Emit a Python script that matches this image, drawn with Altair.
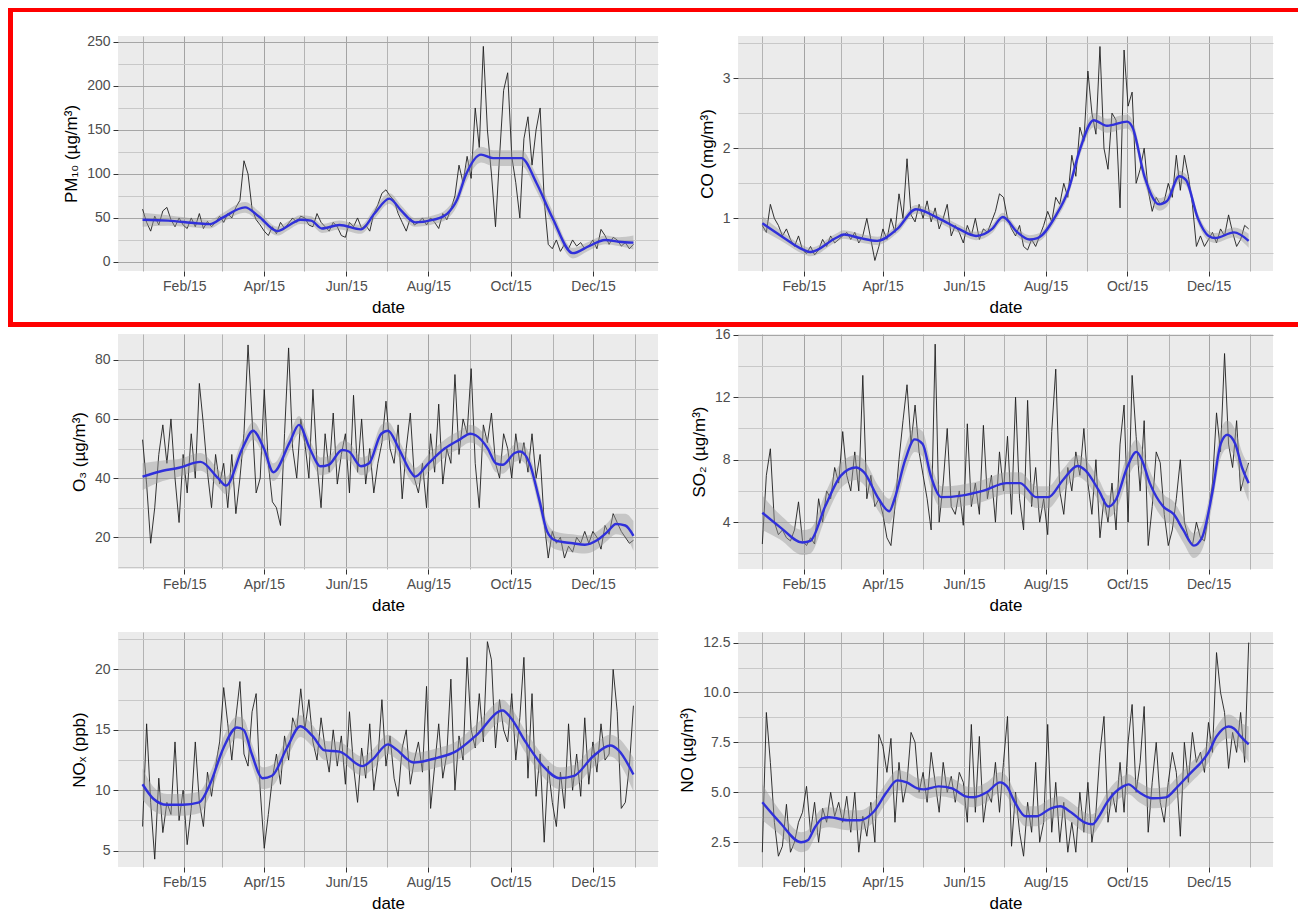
import altair as alt
import pandas as pd

# ---------------- data ----------------
pm10_daily = [60, 45, 35, 52, 42, 58, 62, 48, 40, 50,
              42, 38, 50, 40, 55, 38, 46, 40, 45, 52,
              45, 55, 50, 62, 70, 115, 100, 60, 48, 42,
              35, 30, 40, 32, 45, 38, 44, 50, 45, 52,
              50, 42, 40, 55, 45, 40, 35, 45, 40, 30,
              28, 45, 40, 50, 38, 42, 35, 55, 65, 78,
              82, 75, 70, 55, 45, 35, 50, 42, 45, 50,
              42, 50, 45, 38, 55, 48, 60, 75, 110, 90,
              120, 95, 175, 130, 245, 150, 100, 40, 120, 195,
              215, 120, 90, 50, 140, 165, 110, 150, 175, 70,
              20, 15, 25, 12, 20, 15, 25, 18, 22, 15,
              18, 25, 15, 37, 30, 20, 28, 25, 18, 22, 15, 20]
pm10_sm_dates = ["2015-01-01", "2015-01-20", "2015-02-10", "2015-02-20", "2015-03-01", "2015-03-18",
                 "2015-03-28", "2015-04-11", "2015-04-20", "2015-04-28", "2015-05-06", "2015-05-14",
                 "2015-05-27", "2015-06-12", "2015-06-22", "2015-07-03", "2015-07-12", "2015-07-22",
                 "2015-08-05", "2015-08-15", "2015-08-22", "2015-08-29", "2015-09-09", "2015-09-18",
                 "2015-10-01", "2015-10-09", "2015-10-20", "2015-11-01", "2015-11-16", "2015-11-28",
                 "2015-12-10", "2015-12-20", "2015-12-31"]
pm10_sm = [48, 47, 44, 43, 50, 62, 52, 35, 42, 48, 47, 38, 42, 37, 55, 72, 58, 45,
           48, 55, 70, 100, 122, 118, 118, 118, 90, 50, 10, 18, 25, 23, 22]
pm10_se = [8, 6, 5, 5, 5, 6, 6, 5, 5, 5, 5, 5, 5, 5, 6, 6, 6, 5,
           5, 6, 7, 9, 9, 9, 9, 9, 9, 8, 6, 5, 5, 5, 8]

co_daily = [0.9, 0.8, 1.2, 1.0, 0.9, 0.75, 0.85, 0.7, 0.6, 0.75,
            0.55, 0.5, 0.6, 0.48, 0.55, 0.7, 0.6, 0.75, 0.65, 0.7,
            0.75, 0.8, 0.7, 0.8, 0.65, 0.75, 1.0, 0.7, 0.4, 0.6,
            0.85, 0.7, 1.0, 0.8, 1.35, 1.0, 1.85, 1.05, 0.95, 1.2,
            1.0, 1.25, 0.95, 1.15, 0.85, 1.0, 1.2, 0.75, 0.9, 0.8,
            0.65, 0.9, 0.75, 1.0, 0.7, 0.85, 0.8, 0.95, 1.1, 1.35,
            1.3, 1.0, 0.85, 0.75, 0.9, 0.6, 0.55, 0.7, 0.6, 0.75,
            0.9, 1.1, 0.95, 1.3, 1.2, 1.5, 1.3, 1.9, 1.6, 2.3,
            2.1, 3.1, 2.5, 2.2, 3.45, 2.0, 1.7, 2.5, 2.4, 1.15,
            3.4, 2.6, 2.8, 1.5, 1.7, 2.0, 1.4, 1.1, 1.3, 1.2,
            1.25, 1.5, 1.3, 1.9, 1.4, 1.9, 1.6, 1.2, 0.6, 0.75,
            0.6, 0.7, 0.8, 0.65, 0.85, 0.75, 1.05, 0.8, 0.6, 0.7, 0.9, 0.85]
co_sm_dates = ["2015-01-01", "2015-01-15", "2015-02-01", "2015-02-06", "2015-02-25", "2015-03-03",
               "2015-03-15", "2015-03-28", "2015-04-12", "2015-04-26", "2015-05-13", "2015-05-28",
               "2015-06-10", "2015-06-22", "2015-06-30", "2015-07-11", "2015-07-20", "2015-07-26",
               "2015-08-09", "2015-08-18", "2015-08-27", "2015-09-06", "2015-09-16", "2015-10-01",
               "2015-10-05", "2015-10-14", "2015-10-25", "2015-10-31", "2015-11-09", "2015-11-14",
               "2015-11-23", "2015-12-01", "2015-12-06", "2015-12-20", "2015-12-31"]
co_sm = [0.93, 0.75, 0.55, 0.52, 0.72, 0.77, 0.72, 0.68, 0.85, 1.13, 1.0, 0.85,
         0.75, 0.85, 1.02, 0.8, 0.7, 0.72, 1.05, 1.4, 2.0, 2.4, 2.32, 2.38,
         2.3, 1.6, 1.2, 1.25, 1.6, 1.55, 1.0, 0.75, 0.72, 0.8, 0.68]
co_se = [0.1, 0.07, 0.06, 0.06, 0.06, 0.06, 0.06, 0.06, 0.06, 0.06, 0.06, 0.06,
         0.06, 0.06, 0.06, 0.06, 0.06, 0.06, 0.07, 0.08, 0.09, 0.1, 0.1, 0.1,
         0.1, 0.1, 0.09, 0.08, 0.08, 0.08, 0.07, 0.07, 0.07, 0.07, 0.1]

o3_daily = [53, 38, 18, 30, 48, 58, 45, 60, 40, 25,
            48, 35, 55, 40, 72, 58, 42, 30, 48, 38,
            45, 30, 48, 28, 40, 55, 85, 60, 35, 40,
            70, 45, 32, 30, 24, 55, 84, 50, 40, 60,
            52, 40, 70, 45, 30, 55, 42, 62, 38, 48,
            55, 35, 68, 42, 60, 38, 50, 35, 45, 52,
            66, 50, 45, 58, 33, 50, 62, 40, 35, 45,
            30, 55, 42, 65, 38, 50, 45, 75, 48, 60,
            55, 77, 45, 30, 58, 52, 62, 45, 40, 55,
            50, 40, 55, 45, 52, 42, 55, 40, 48, 25,
            13, 22, 18, 20, 13, 17, 15, 20, 18, 22,
            18, 22, 20, 16, 24, 21, 28, 25, 22, 20, 18, 19]
o3_sm_dates = ["2015-01-01", "2015-01-16", "2015-01-28", "2015-02-13", "2015-02-26", "2015-03-04",
               "2015-03-16", "2015-03-24", "2015-04-01", "2015-04-08", "2015-04-20", "2015-04-27",
               "2015-05-05", "2015-05-13", "2015-05-19", "2015-05-29", "2015-06-03", "2015-06-12",
               "2015-06-18", "2015-06-27", "2015-07-02", "2015-07-10", "2015-07-19", "2015-07-22",
               "2015-08-01", "2015-08-13", "2015-08-24", "2015-09-01", "2015-09-05", "2015-09-14",
               "2015-09-20", "2015-09-25", "2015-10-04", "2015-10-08", "2015-10-15", "2015-10-22",
               "2015-10-28", "2015-11-03", "2015-11-16", "2015-11-25", "2015-12-04", "2015-12-12",
               "2015-12-18", "2015-12-25", "2015-12-31"]
o3_sm = [40.5, 42.5, 43.5, 45.5, 40, 37.5, 50, 56, 50, 42, 52, 58,
         50, 44, 44.5, 49.5, 49, 44, 45, 55, 56, 50, 42, 40.5,
         45, 50, 53, 55, 54.5, 50, 45, 44.5, 48.5, 49, 45, 33,
         22, 19, 18, 17.5, 19, 22, 24.5, 24, 20.5]
o3_se = [4.5, 3.5, 3, 3, 3, 3, 3, 3, 3, 3, 3, 3,
         3, 3, 3, 3, 3, 3, 3, 3, 3, 3, 3, 3,
         3, 3, 3, 3, 3, 3, 3, 3, 3, 3, 3, 3,
         3, 3, 3, 3, 3, 3, 3.5, 4, 5]

so2_daily = [2.6, 7.0, 8.7, 4.0, 3.2, 3.5, 3.0, 2.8, 3.5, 5.3,
             2.8, 2.5, 3.0, 2.6, 5.5, 4.0, 6.0, 5.5, 7.5, 6.5,
             9.8, 7.0, 6.0, 8.5, 6.0, 13.4, 5.5, 7.0, 5.0, 5.5,
             4.5, 3.0, 2.5, 5.0, 8.0, 10.5, 12.8, 9.0, 11.5, 8.5,
             7.0, 5.5, 3.5, 15.4, 4.0, 6.5, 10.0, 5.0, 4.5, 6.0,
             3.8, 10.3, 5.0, 6.5, 4.5, 10.2, 5.5, 7.0, 4.0, 8.5,
             6.0, 9.5, 4.5, 12.0, 5.5, 3.5, 11.8, 5.0, 7.5, 4.0,
             5.5, 3.2, 9.8, 13.8, 6.0, 4.5, 7.5, 6.0, 8.5, 7.0,
             10.0, 6.5, 4.5, 8.0, 3.0, 5.5, 4.0, 6.5, 3.5, 9.0,
             11.5, 4.0, 13.4, 9.5, 6.0, 10.5, 2.5, 5.0, 8.5, 7.8,
             4.5, 2.5, 3.5, 5.5, 8.0, 4.0, 3.0, 2.5, 4.0, 3.0,
             2.8, 4.5, 6.5, 11.0, 8.5, 14.8, 9.0, 7.5, 10.5, 6.0, 7.0, 7.8]
so2_sm_dates = ["2015-01-01", "2015-01-14", "2015-01-31", "2015-02-06", "2015-02-17", "2015-03-01",
                "2015-03-12", "2015-03-18", "2015-03-29", "2015-04-06", "2015-04-10", "2015-04-18",
                "2015-04-25", "2015-05-01", "2015-05-07", "2015-05-15", "2015-05-30", "2015-06-15",
                "2015-07-03", "2015-07-13", "2015-07-25", "2015-08-03", "2015-08-14", "2015-08-25",
                "2015-08-31", "2015-09-10", "2015-09-17", "2015-09-23", "2015-10-01", "2015-10-08",
                "2015-10-12", "2015-10-18", "2015-10-28", "2015-11-05", "2015-11-12", "2015-11-20",
                "2015-11-26", "2015-12-04", "2015-12-10", "2015-12-15", "2015-12-21", "2015-12-26",
                "2015-12-31"]
so2_sm = [4.6, 3.7, 2.7, 2.8, 5.0, 7.0, 7.5, 7.2, 5.5, 4.7, 5.5, 8.0,
          9.3, 9.0, 7.0, 5.6, 5.7, 6.0, 6.5, 6.5, 5.6, 5.6, 6.7, 7.6,
          7.3, 6.0, 5.0, 5.5, 7.5, 8.5, 8.0, 6.5, 5.0, 4.5, 3.5, 2.5,
          3.0, 6.0, 9.0, 9.6, 9.0, 7.5, 6.5]
so2_se = [1.1, 0.8, 0.8, 0.8, 0.8, 0.8, 0.8, 0.8, 0.8, 0.8, 0.8, 0.8,
          0.8, 0.8, 0.8, 0.7, 0.7, 0.7, 0.7, 0.7, 0.7, 0.7, 0.7, 0.7,
          0.7, 0.7, 0.7, 0.7, 0.8, 0.8, 0.8, 0.8, 0.8, 0.8, 0.8, 0.8,
          0.8, 0.8, 0.9, 0.9, 0.9, 1.0, 1.2]

nox_daily = [7.0, 15.5, 9.0, 4.3, 11.0, 6.5, 9.0, 8.0, 14.0, 7.5,
             10.0, 5.5, 8.5, 14.0, 9.0, 7.0, 11.5, 9.5, 12.0, 14.0,
             18.5, 15.5, 12.5, 16.0, 19.0, 13.0, 12.0, 16.5, 18.0, 10.0,
             5.2, 8.0, 11.0, 13.0, 10.5, 14.5, 12.5, 16.0, 15.0, 18.4,
             15.0, 17.5, 14.0, 12.5, 16.0, 13.5, 11.5, 15.0, 12.0, 14.5,
             10.5, 16.5, 12.0, 9.0, 13.5, 11.0, 15.5, 10.0, 12.5, 17.5,
             12.0, 14.5, 11.0, 9.5, 13.5, 15.0, 10.5, 12.5, 14.0, 11.5,
             18.6, 8.5, 12.0, 15.5, 11.0, 13.0, 19.2, 10.0, 14.5, 12.5,
             21.0, 15.0, 13.5, 18.0, 14.0, 22.3, 20.8, 13.5, 17.5, 15.0,
             14.0, 18.0, 12.5, 16.0, 21.0, 11.0, 18.0, 9.5, 13.0, 5.7,
             12.0, 9.0, 7.0, 11.5, 8.5, 15.5, 10.0, 13.0, 9.5, 16.0,
             10.5, 14.0, 11.5, 15.5, 12.5, 13.0, 20.0, 16.5, 8.5, 9.0, 12.0, 17.0]
nox_sm_dates = ["2015-01-01", "2015-01-09", "2015-01-19", "2015-01-31", "2015-02-12", "2015-02-20",
                "2015-03-02", "2015-03-12", "2015-03-17", "2015-03-23", "2015-03-31", "2015-04-07",
                "2015-04-18", "2015-04-28", "2015-05-07", "2015-05-16", "2015-05-27", "2015-06-13",
                "2015-06-20", "2015-07-02", "2015-07-08", "2015-07-21", "2015-08-08", "2015-08-21",
                "2015-09-05", "2015-09-25", "2015-10-01", "2015-10-12", "2015-10-25", "2015-11-06",
                "2015-11-17", "2015-12-01", "2015-12-14", "2015-12-20", "2015-12-31"]
nox_sm = [10.5, 9.3, 8.8, 8.8, 9.0, 10.5, 13.5, 15.2, 15.0, 13.0, 11.0, 11.2,
          13.5, 15.3, 14.5, 13.3, 13.2, 12.0, 12.5, 13.8, 13.4, 12.3, 12.7, 13.2,
          14.5, 16.6, 16.0, 14.0, 12.0, 11.0, 11.2, 12.8, 13.7, 13.3, 11.3]
nox_se = [1.3, 1.0, 0.9, 0.9, 0.9, 0.9, 0.9, 0.9, 0.9, 0.9, 0.9, 0.9,
          0.9, 0.9, 0.9, 0.8, 0.8, 0.8, 0.8, 0.8, 0.8, 0.8, 0.8, 0.8,
          0.9, 0.9, 0.9, 0.9, 0.9, 0.9, 0.9, 0.9, 0.9, 1.0, 1.4]

no_daily = [2.0, 9.0, 6.5, 3.5, 1.8, 2.3, 4.4, 2.0, 2.5, 3.5,
            4.0, 5.3, 3.0, 4.5, 2.5, 4.2, 3.5, 5.0, 3.8, 4.5,
            3.5, 4.8, 3.0, 5.0, 2.0, 3.8, 2.8, 4.5, 2.5, 7.9,
            7.3, 6.0, 7.7, 3.5, 6.5, 4.5, 5.5, 8.0, 7.5, 5.0,
            6.0, 4.5, 7.0, 5.5, 4.0, 6.5, 5.0, 5.8, 4.5, 6.0,
            5.5, 3.5, 8.4, 4.0, 7.8, 3.5, 5.0, 4.5, 6.5, 4.0,
            6.5, 8.8, 2.3, 5.0, 3.0, 1.8, 4.5, 3.0, 6.5, 2.5,
            3.5, 8.4, 3.0, 5.5, 2.5, 4.5, 2.0, 3.5, 2.0, 5.0,
            3.0, 5.5, 2.5, 4.0, 7.0, 8.8, 3.5, 5.0, 4.0, 6.5,
            4.0, 7.5, 9.4, 5.0, 6.5, 9.3, 3.0, 5.5, 7.5, 4.5,
            3.5, 5.5, 7.0, 6.0, 2.8, 7.5, 5.5, 8.0, 6.5, 7.0,
            6.0, 8.5, 7.0, 12.0, 10.0, 9.0, 6.2, 8.0, 7.0, 9.0, 6.5, 12.5]
no_sm_dates = ["2015-01-01", "2015-01-14", "2015-01-30", "2015-02-04", "2015-02-09", "2015-02-15",
               "2015-02-20", "2015-03-06", "2015-03-15", "2015-03-25", "2015-04-04", "2015-04-12",
               "2015-04-19", "2015-04-27", "2015-05-02", "2015-05-13", "2015-05-23", "2015-06-02",
               "2015-06-08", "2015-06-18", "2015-06-28", "2015-07-03", "2015-07-09", "2015-07-17",
               "2015-07-25", "2015-08-05", "2015-08-12", "2015-08-20", "2015-08-30", "2015-09-05",
               "2015-09-10", "2015-09-16", "2015-09-28", "2015-10-02", "2015-10-10", "2015-10-20",
               "2015-10-30", "2015-11-08", "2015-11-18", "2015-11-24", "2015-12-01", "2015-12-07",
               "2015-12-16", "2015-12-20", "2015-12-25", "2015-12-31"]
no_sm = [4.5, 3.5, 2.5, 2.6, 3.2, 3.7, 3.75, 3.6, 3.6, 4.0, 5.0, 5.6,
         5.5, 5.2, 5.15, 5.3, 5.2, 4.8, 4.75, 5.0, 5.5, 5.3, 4.5, 3.8,
         3.8, 4.2, 4.3, 4.0, 3.5, 3.4, 3.8, 4.5, 5.3, 5.4, 5.0, 4.7,
         4.75, 5.3, 6.0, 6.4, 7.0, 7.8, 8.3, 8.2, 7.8, 7.4]
no_se = [0.9, 0.6, 0.5, 0.5, 0.5, 0.5, 0.5, 0.5, 0.5, 0.5, 0.5, 0.5,
         0.5, 0.5, 0.5, 0.5, 0.5, 0.5, 0.5, 0.5, 0.5, 0.5, 0.5, 0.5,
         0.5, 0.5, 0.5, 0.5, 0.5, 0.5, 0.5, 0.5, 0.5, 0.5, 0.5, 0.5,
         0.5, 0.5, 0.5, 0.5, 0.5, 0.5, 0.6, 0.6, 0.7, 0.9]

# axis tick positions (major + minor)
pm10_ticks = [0, 25, 50, 75, 100, 125, 150, 175, 200, 225, 250]
co_ticks = [0.5, 1, 1.5, 2, 2.5, 3, 3.5]
o3_ticks = [10, 20, 30, 40, 50, 60, 70, 80]
so2_ticks = [2, 4, 6, 8, 10, 12, 14, 16]
nox_ticks = [5, 7.5, 10, 12.5, 15, 17.5, 20, 22.5]
no_ticks = [2.5, 3.75, 5, 6.25, 7.5, 8.75, 10, 11.25, 12.5]

FONT = "Liberation Sans"
X_DOMAIN = [alt.DateTime(year=2014, month=12, date=13, hours=19),
            alt.DateTime(year=2016, month=1, date=18, hours=5)]
X_TICKS = [alt.DateTime(year=2015, month=m, date=1) for m in range(1, 13)] + \
          [alt.DateTime(year=2016, month=1, date=1)]

W1, W2, H = 540, 535, 235


def panel(daily, sm_dates, sm_vals, sm_se, title, ydom, yticks, major, fmt, width):
    ddf = pd.DataFrame({"date": pd.date_range("2015-01-01", "2015-12-31", periods=len(daily)),
                        "v": daily})
    sdf = pd.DataFrame({"date": pd.to_datetime(sm_dates), "m": sm_vals,
                        "lo": [a - b for a, b in zip(sm_vals, sm_se)],
                        "hi": [a + b for a, b in zip(sm_vals, sm_se)]})
    x_minor = "month(datum.value) % 2 == 0"
    y_minor = f"abs(datum.value / {major} - round(datum.value / {major})) > 0.001"
    xs = alt.Scale(domain=X_DOMAIN)
    ys = alt.Scale(domain=ydom, nice=False, zero=False)
    xaxis = alt.Axis(values=X_TICKS, title="date",
                     labelExpr=f"{x_minor} ? '' : timeFormat(datum.value, '%b/%y')",
                     tickOpacity={"condition": {"test": x_minor, "value": 0}, "value": 1},
                     gridColor={"condition": {"test": x_minor, "value": "#B3B3B3"}, "value": "#A3A3A3"},
                     labelOverlap=False, labelFlush=False)
    yaxis = alt.Axis(values=yticks, title=title,
                     labelExpr=f"{y_minor} ? '' : format(datum.value, '{fmt}')",
                     tickOpacity={"condition": {"test": y_minor, "value": 0}, "value": 1},
                     gridColor={"condition": {"test": y_minor, "value": "#C8C8C8"}, "value": "#A6A6A6"},
                     labelOverlap=False, labelFlush=False)
    line = alt.Chart(ddf).mark_line(color="#1E1E1E", strokeWidth=0.9).encode(
        x=alt.X("date:T", scale=xs, axis=xaxis),
        y=alt.Y("v:Q", scale=ys, axis=yaxis))
    band = alt.Chart(sdf).mark_area(color="#999999", opacity=0.45, interpolate="monotone").encode(
        x=alt.X("date:T", scale=xs, axis=xaxis),
        y=alt.Y("lo:Q", scale=ys, axis=yaxis),
        y2="hi:Q")
    smooth = alt.Chart(sdf).mark_line(color="#3030DA", strokeWidth=2.4, interpolate="monotone").encode(
        x=alt.X("date:T", scale=xs, axis=xaxis),
        y=alt.Y("m:Q", scale=ys, axis=yaxis))
    return [line, band, smooth], width


def build(parts, extra=None):
    layers, width = parts
    if extra:
        layers = layers + extra
    return alt.layer(*layers).properties(width=width, height=H)


# red highlight frame around the first row (decoration)
frame_df = pd.DataFrame({"k": [0]})
RED = "#FF0000"
frame = [
    alt.Chart(frame_df).mark_rule(color=RED, strokeWidth=5).encode(
        x=alt.value(-110), x2=alt.value(1180), y=alt.value(-26.5)),
    alt.Chart(frame_df).mark_rule(color=RED, strokeWidth=5).encode(
        x=alt.value(-110), x2=alt.value(1180), y=alt.value(288.5)),
    alt.Chart(frame_df).mark_rule(color=RED, strokeWidth=5).encode(
        x=alt.value(-107.5), y=alt.value(-29), y2=alt.value(291)),
]

p1 = build(panel(pm10_daily, pm10_sm_dates, pm10_sm, pm10_se, "PM₁₀ (µg/m³)",
                 [-10.3, 256.8], pm10_ticks, 50, "d", W1), frame)
p2 = build(panel(co_daily, co_sm_dates, co_sm, co_se, "CO (mg/m³)",
                 [0.25, 3.6], co_ticks, 1, "d", W2))
p3 = build(panel(o3_daily, o3_sm_dates, o3_sm, o3_se, "O₃ (µg/m³)",
                 [9.3, 88.7], o3_ticks, 20, "d", W1))
p4 = build(panel(so2_daily, so2_sm_dates, so2_sm, so2_se, "SO₂ (µg/m³)",
                 [1.0, 16.05], so2_ticks, 4, "d", W2))
p5 = build(panel(nox_daily, nox_sm_dates, nox_sm, nox_se, "NOₓ (ppb)",
                 [3.65, 23.1], nox_ticks, 5, "d", W1))
p6 = build(panel(no_daily, no_sm_dates, no_sm, no_se, "NO (µg/m³)",
                 [1.26, 13.03], no_ticks, 2.5, ".1f", W2))

chart = alt.concat(p1, p2, p3, p4, p5, p6, columns=2,
                   spacing={"row": 63, "column": 80}, bounds="flush").properties(
    padding={"left": -3, "top": -4, "right": 0, "bottom": 0},
    background="white"
).configure_view(
    fill="#EBEBEB", strokeWidth=0
).configure_axis(
    grid=True, gridWidth=1, domain=False,
    labelFont=FONT, labelFontSize=14, labelColor="#4D4D4D", labelPadding=3,
    titleFont=FONT, titleFontSize=17, titleColor="#000000", titleFontWeight="normal",
    titlePadding=6, tickColor="#333333", tickSize=5, tickWidth=1
)

chart.save("out.html", embed_options={"renderer": "svg", "actions": False})
